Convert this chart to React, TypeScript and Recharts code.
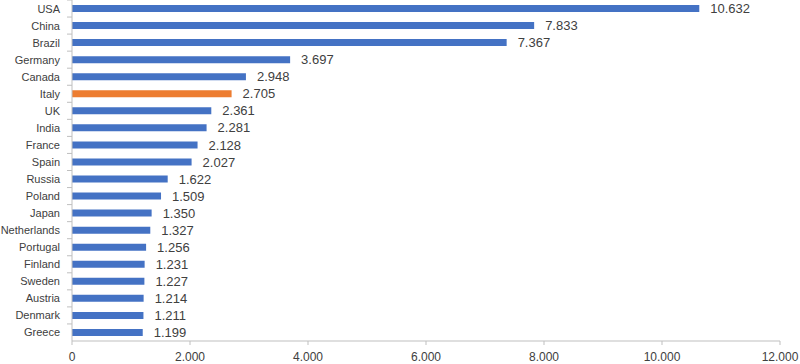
import { BarChart, Bar, XAxis, YAxis, Cell, LabelList } from "recharts";

const countries = [
  "USA", "China", "Brazil", "Germany", "Canada", "Italy", "UK", "India", "France", "Spain",
  "Russia", "Poland", "Japan", "Netherlands", "Portugal", "Finland", "Sweden", "Austria", "Denmark", "Greece",
];
const values = [
  10632, 7833, 7367, 3697, 2948, 2705, 2361, 2281, 2128, 2027,
  1622, 1509, 1350, 1327, 1256, 1231, 1227, 1214, 1211, 1199,
];
const highlight = "Italy";
const xTicks = [0, 2000, 4000, 6000, 8000, 10000, 12000];

const WIDTH = 800;
const HEIGHT = 364;
const X_AXIS_H = 23;
const BAND = (HEIGHT - X_AXIS_H) / countries.length;

const BLUE = "#4472C4";
const ORANGE = "#ED7D31";
const AXIS = "#BFBFBF";
const TEXT = "#404040";
const FONT = "'Liberation Sans', Arial, sans-serif";

const fmt = (v: number) => v.toString().replace(/\B(?=(\d{3})+(?!\d))/g, ".");

const data = countries.map((name, i) => ({ name, value: values[i] }));

// category ticks sit between bars, like the spreadsheet original
function CountryTick(props: any) {
  const { x, y, payload } = props;
  const axisX = x + 12;
  return (
    <g>
      <line x1={axisX - 5} x2={axisX} y1={y - BAND / 2} y2={y - BAND / 2} stroke={AXIS} />
      <text x={x} y={y} dy={4} textAnchor="end" fontSize={11} fill={TEXT} fontFamily={FONT}>
        {payload.value}
      </text>
    </g>
  );
}

export default function App() {
  return (
    <div>
      <style>{"body{margin:0}"}</style>
      <BarChart
        width={WIDTH}
        height={HEIGHT}
        data={data}
        layout="vertical"
        margin={{ top: 0, right: 20, bottom: 0, left: 0 }}
        barCategoryGap={0}
      >
        <XAxis
          type="number"
          domain={[0, 12000]}
          ticks={xTicks}
          tickFormatter={fmt}
          height={X_AXIS_H}
          stroke={AXIS}
          tickSize={4}
          tickMargin={7}
          tick={{ fontSize: 12, fill: TEXT, fontFamily: FONT }}
        />
        <YAxis
          type="category"
          dataKey="name"
          width={72}
          stroke={AXIS}
          tickLine={false}
          tickSize={5}
          tickMargin={7}
          interval={0}
          tick={<CountryTick />}
        />
        <Bar dataKey="value" barSize={7} isAnimationActive={false}>
          {data.map((d) => (
            <Cell key={d.name} fill={d.name === highlight ? ORANGE : BLUE} />
          ))}
          <LabelList
            dataKey="value"
            position="right"
            offset={11}
            formatter={(v: any) => fmt(Number(v))}
            style={{ fontSize: 13, fill: TEXT, fontFamily: FONT }}
          />
        </Bar>
      </BarChart>
    </div>
  );
}
